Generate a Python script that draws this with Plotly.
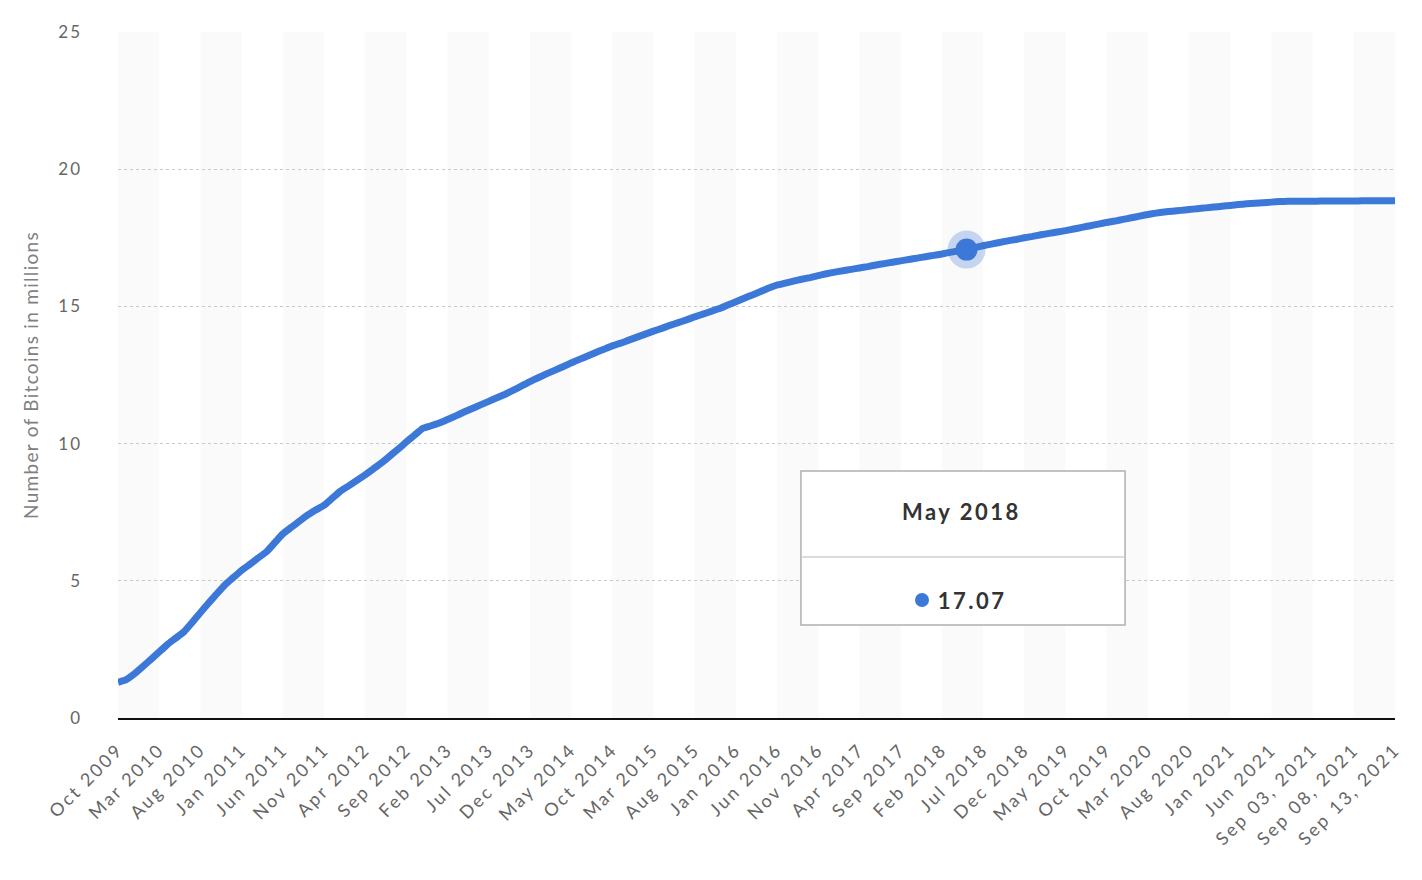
import pandas as pd
import plotly.graph_objects as go

# ---- data ----
months = list(pd.period_range("2009-10", "2021-08", freq="M").strftime("%b %Y"))
days = list(pd.date_range("2021-09-01", "2021-09-13", freq="D").strftime("%b %d, %Y"))
categories = months + days

bitcoins_millions = [
    1.30, 1.40, 1.61, 1.87, 2.14, 2.41, 2.68, 2.91, 3.14, 3.48,
    3.84, 4.19, 4.53, 4.86, 5.12, 5.38, 5.60, 5.83, 6.05, 6.38,
    6.71, 6.94, 7.17, 7.39, 7.58, 7.75, 8.01, 8.27, 8.46, 8.66,
    8.86, 9.08, 9.30, 9.55, 9.80, 10.06, 10.31, 10.56, 10.65, 10.75,
    10.88, 11.01, 11.15, 11.28, 11.41, 11.54, 11.67, 11.80, 11.95, 12.10,
    12.26, 12.40, 12.54, 12.67, 12.80, 12.94, 13.07, 13.19, 13.32, 13.44,
    13.56, 13.66, 13.77, 13.88, 13.99, 14.10, 14.20, 14.31, 14.41, 14.51,
    14.62, 14.72, 14.82, 14.92, 15.05, 15.17, 15.30, 15.42, 15.54, 15.67,
    15.78, 15.85, 15.92, 15.99, 16.05, 16.12, 16.19, 16.25, 16.30, 16.35,
    16.40, 16.45, 16.51, 16.56, 16.61, 16.66, 16.71, 16.76, 16.81, 16.86,
    16.91, 16.97, 17.02, 17.07, 17.14, 17.21, 17.27, 17.33, 17.39, 17.44,
    17.50, 17.55, 17.61, 17.66, 17.71, 17.76, 17.82, 17.88, 17.94, 18.00,
    18.06, 18.11, 18.17, 18.23, 18.29, 18.35, 18.40, 18.44, 18.47, 18.50,
    18.53, 18.56, 18.59, 18.62, 18.65, 18.68, 18.71, 18.74, 18.76, 18.78,
    18.80, 18.82, 18.83,
    18.83, 18.83, 18.83, 18.84, 18.84, 18.84, 18.84, 18.84, 18.85, 18.85,
    18.85, 18.85, 18.85,
]

tick_step = 5
tick_labels = categories[::tick_step]
highlight_label = "May 2018"

# ---- figure ----
BLUE = "#3c78d8"
fig = go.Figure()

fig.add_trace(go.Scatter(
    x=categories, y=bitcoins_millions, mode="lines",
    line=dict(color=BLUE, width=7, shape="spline", smoothing=0.3),
    hoverinfo="skip", showlegend=False,
))

hi = categories.index(highlight_label)
hv = bitcoins_millions[hi]
fig.add_trace(go.Scatter(
    x=[categories[hi]], y=[hv], mode="markers",
    marker=dict(size=38, color="rgba(60,120,216,0.28)", line=dict(width=0)),
    hoverinfo="skip", showlegend=False,
))
fig.add_trace(go.Scatter(
    x=[categories[hi]], y=[hv], mode="markers",
    marker=dict(size=22, color=BLUE, line=dict(width=0)),
    hoverinfo="skip", showlegend=False,
))

# alternating background stripes (every other tick interval)
shapes = []
for k in range(0, len(tick_labels) - 1, 2):
    shapes.append(dict(type="rect", xref="x", yref="paper",
                       x0=tick_labels[k], x1=tick_labels[k + 1], y0=0, y1=1,
                       fillcolor="#fafafa", line=dict(width=0), layer="below"))

# tooltip box
bx0, bx1, by0, by1 = 0.5348, 0.7886, 0.1356, 0.3601
shapes.append(dict(type="rect", xref="paper", yref="paper", x0=bx0, x1=bx1, y0=by0, y1=by1,
                   fillcolor="white", line=dict(color="#b0b0b0", width=1.5), layer="above"))
shapes.append(dict(type="line", xref="paper", yref="paper", x0=bx0 + 0.001, x1=bx1 - 0.001,
                   y0=0.2347, y1=0.2347, line=dict(color="#cfcfcf", width=1.5), layer="above"))
shapes.append(dict(type="circle", xref="paper", yref="paper", xsizemode="pixel", ysizemode="pixel",
                   xanchor=0.6296, yanchor=0.1720, x0=-7, x1=7, y0=-7, y1=7,
                   fillcolor=BLUE, line=dict(width=0), layer="above"))

annotations = [
    dict(xref="paper", yref="paper", x=0.6602, y=0.3003, text=f"<b>{categories[hi]}</b>",
         showarrow=False, xanchor="center", yanchor="middle",
         font=dict(family="Lato", size=22, color="#333333")),
    dict(xref="paper", yref="paper", x=0.6453, y=0.1720, text=f"<b>{hv:.2f}</b>",
         showarrow=False, xanchor="left", yanchor="middle",
         font=dict(family="Lato", size=22, color="#333333")),
]

fig.update_layout(
    width=1422, height=880,
    margin=dict(l=118, r=27, t=32, b=162, pad=0),
    paper_bgcolor="white", plot_bgcolor="white",
    showlegend=False, hovermode=False,
    shapes=shapes, annotations=annotations,
    font=dict(family="Lato", color="#666666"),
)
fig.update_xaxes(
    type="category", categoryorder="array", categoryarray=categories,
    range=[0, len(categories) - 1],
    tickmode="array", tickvals=tick_labels, ticktext=tick_labels,
    tickangle=-45, tickfont=dict(family="Lato", size=18, color="#666666"),
    ticks="", ticklabelstandoff=12,
    showgrid=False, showline=True, linecolor="#111111", linewidth=2,
    zeroline=False,
)
fig.update_yaxes(
    range=[0, 25], dtick=5, tick0=0,
    showgrid=True, gridcolor="#c8c8c8", griddash="dot", gridwidth=1,
    zeroline=False, showline=False, ticks="", ticklabelstandoff=35,
    tickfont=dict(family="Lato", size=17, color="#666666"),
    title=dict(text="Number of Bitcoins in millions", standoff=18,
               font=dict(family="Lato", size=19, color="#808080")),
)

css = ("body{margin:0 !important;padding:0}"
       ".xtick text{letter-spacing:2.5px}"
       ".ytick text{letter-spacing:2px}"
       ".g-ytitle text{letter-spacing:1.3px}"
       ".annotation-text{letter-spacing:2.5px}")
post = ("var s=document.createElement('style');s.innerHTML='" + css +
        "';document.head.appendChild(s);")
fig.write_html("out.html", post_script=post, config={"displayModeBar": False})
